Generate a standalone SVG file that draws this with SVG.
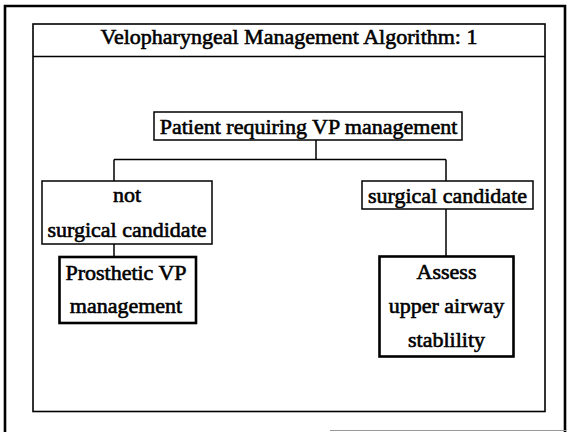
<svg xmlns="http://www.w3.org/2000/svg" width="568" height="432" viewBox="0 0 568 432">
<style>
text{font-family:"Liberation Serif","Times New Roman",serif;font-size:22px;fill:#000;text-anchor:middle;stroke:#000;stroke-width:0.6}
.box{fill:#fff;stroke:#000;stroke-width:1.5}
.thick{fill:#fff;stroke:#000;stroke-width:2.6}
.conn{fill:none;stroke:#000;stroke-width:1.5}
</style>
<rect width="568" height="432" fill="#fff"/>
<g id="frame">
<path d="M5,432 V6 H565 V432" fill="none" stroke="#000" stroke-width="2.6"/>
<path d="M330,430.5 H566" stroke="#999" stroke-width="1.2"/>
<rect x="33" y="24" width="512" height="387.5" fill="none" stroke="#000" stroke-width="1.6"/>
<line x1="33" y1="56.5" x2="545" y2="56.5" stroke="#000" stroke-width="1.6"/>
<text x="289" y="44">Velopharyngeal Management Algorithm: 1</text>
</g>
<g id="connectors">
<path class="conn" d="M316,140 V159.5 M114,159.5 H446 M114,159.5 V181 M446,159.5 V181 M114,244 V257 M446,209 V256"/>
</g>
<g id="patient">
<rect class="box" x="154" y="112" width="308" height="28"/>
<text x="308.5" y="134">Patient requiring VP management</text>
</g>
<g id="not-surgical">
<rect class="box" x="42" y="181" width="170" height="63"/>
<text x="127" y="202">not</text>
<text x="127" y="237">surgical candidate</text>
</g>
<g id="surgical">
<rect class="box" x="362" y="181" width="171" height="28"/>
<text x="447.5" y="202.5">surgical candidate</text>
</g>
<g id="prosthetic">
<rect class="thick" x="59.5" y="257" width="136.5" height="66"/>
<text x="126" y="280">Prosthetic VP</text>
<text x="126" y="313">management</text>
</g>
<g id="assess">
<rect class="thick" x="379.5" y="256.5" width="134" height="100"/>
<text x="446.5" y="279">Assess</text>
<text x="446.5" y="313">upper airway</text>
<text x="446.5" y="347">stablility</text>
</g>
</svg>
